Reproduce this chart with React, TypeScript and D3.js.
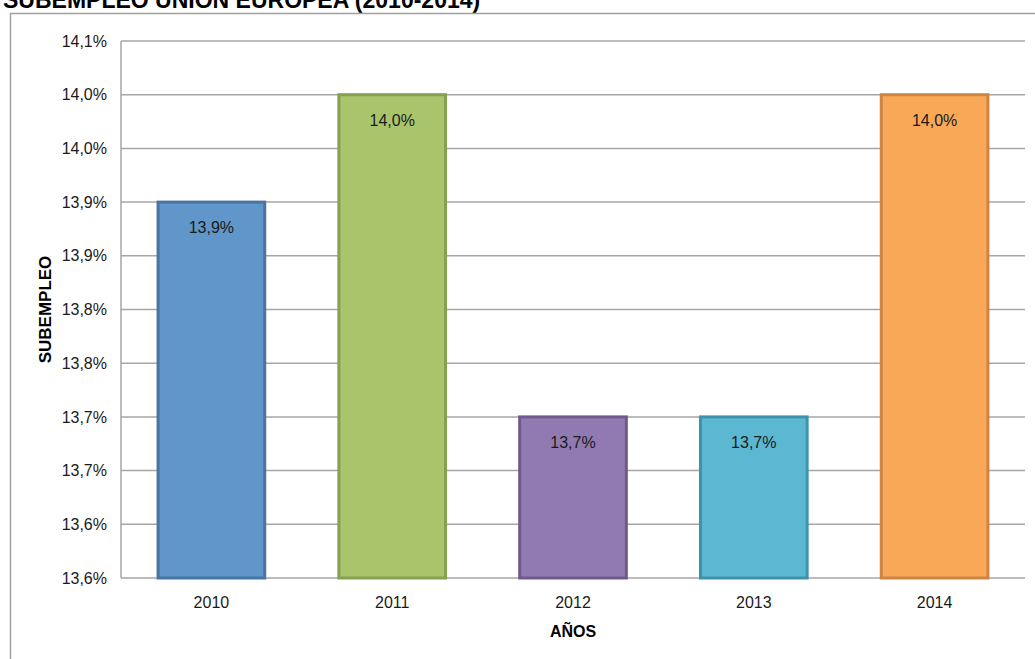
import React from "react";
import * as d3 from "d3";

const years = ["2010", "2011", "2012", "2013", "2014"];
const values = [13.9, 14.0, 13.7, 13.7, 14.0];
const labels = ["13,9%", "14,0%", "13,7%", "13,7%", "14,0%"];
const fills = ["#6096c9", "#aac46c", "#917ab1", "#5cb8d2", "#f9a857"];
const strokes = ["#4a74a3", "#87a04f", "#6f5a8c", "#3e93ab", "#cd8543"];
const yTicks = [13.55, 13.6, 13.65, 13.7, 13.75, 13.8, 13.85, 13.9, 13.95, 14.0, 14.05];
const title = "SUBEMPLEO UNIÓN EUROPEA (2010-2014)";

const W = 1035;
const H = 659;
const plot = { left: 121, right: 1025, top: 41, bottom: 578 };
const font = "Arial, 'Liberation Sans', sans-serif";

export default function App() {
  const x = d3.scaleBand<string>().domain(years).range([plot.left, plot.right]).paddingInner(0.41).paddingOuter(0.205);
  const y = d3.scaleLinear().domain([13.55, 14.05]).range([plot.bottom, plot.top]);
  const fmt = (v: number) => (Math.round(v * 10 + 1e-9) / 10).toFixed(1).replace(".", ",") + "%";

  return (
    <svg width={W} height={H} style={{ position: "absolute", left: 0, top: 0, background: "#fff" }} fontFamily={font}>
      <rect x={0} y={0} width={W} height={H} fill="#fff" />
      <text x={3} y={8} fontSize={23} fontWeight="bold" fill="#000">{title}</text>
      <path d={`M10.5,${H + 5} V13.5 H${W + 5}`} fill="none" stroke="#a0a0a0" strokeWidth={1.5} />
      {yTicks.map((t, i) => (
        <g key={i}>
          <line x1={plot.left} x2={plot.right} y1={y(t)} y2={y(t)} stroke="#a6a6a6" strokeWidth={1.5} />
          <text x={107} y={y(t)} dy="0.35em" textAnchor="end" fontSize={16} fill="#1a1a1a">{fmt(t)}</text>
        </g>
      ))}
      <line x1={plot.left} x2={plot.left} y1={plot.top} y2={plot.bottom} stroke="#a6a6a6" strokeWidth={1.5} />
      {years.map((yr, i) => {
        const bx = x(yr)!;
        const bw = x.bandwidth();
        const top = y(values[i]);
        return (
          <g key={yr}>
            <rect x={bx} y={top} width={bw} height={plot.bottom - top} fill={fills[i]} stroke={strokes[i]} strokeWidth={3} />
            <text x={bx + bw / 2} y={top + 31} textAnchor="middle" fontSize={16} fill="#1a1a1a">{labels[i]}</text>
            <text x={bx + bw / 2} y={608} textAnchor="middle" fontSize={16} fill="#1a1a1a">{yr}</text>
          </g>
        );
      })}
      <text x={(plot.left + plot.right) / 2} y={637} textAnchor="middle" fontSize={16} fontWeight="bold" fill="#000">AÑOS</text>
      <text transform={`translate(51,${(plot.top + plot.bottom) / 2}) rotate(-90)`} textAnchor="middle" fontSize={17} fontWeight="bold" fill="#000">SUBEMPLEO</text>
    </svg>
  );
}
